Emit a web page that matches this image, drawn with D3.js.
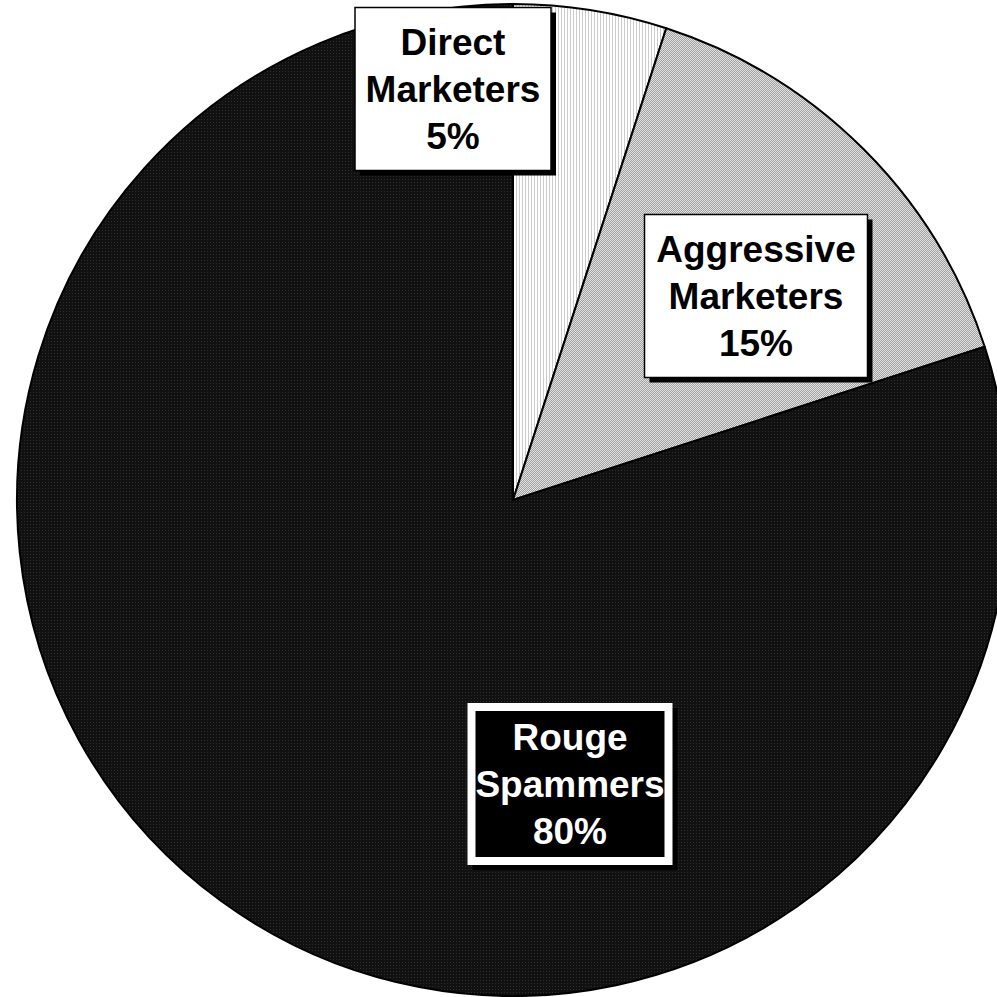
<!DOCTYPE html>
<html><head><meta charset="utf-8">
<script src="https://cdn.jsdelivr.net/npm/d3@7"></script>
<style>html,body{margin:0;padding:0;background:#fff;}svg{display:block;}</style>
</head><body>
<svg id="chart" width="997" height="997"></svg>
<script>
const categories = ["Direct Marketers", "Aggressive Marketers", "Rouge Spammers"];
const values = [5, 15, 80];
const labelLines = [["Direct", "Marketers", "5%"], ["Aggressive", "Marketers", "15%"], ["Rouge", "Spammers", "80%"]];

// layout (not data)
const cx = 513, cy = 500, R = 496;
const labelLayout = [
  {x: 453, y: 89, w: 196, h: 163, dark: false},
  {x: 756, y: 296, w: 223, h: 163, dark: false},
  {x: 570, y: 784, w: 205, h: 162, dark: true}
];

const svg = d3.select("#chart");
const defs = svg.append("defs");

// patterns
const p0 = defs.append("pattern").attr("id", "pat0").attr("patternUnits", "userSpaceOnUse").attr("width", 3).attr("height", 3);
p0.append("rect").attr("width", 3).attr("height", 3).attr("fill", "#ffffff");
p0.append("rect").attr("width", 1).attr("height", 3).attr("fill", "#cccccc");

const p1 = defs.append("pattern").attr("id", "pat1").attr("patternUnits", "userSpaceOnUse").attr("width", 2).attr("height", 2);
p1.append("rect").attr("width", 2).attr("height", 2).attr("fill", "#e2e2e2");
p1.append("rect").attr("width", 1).attr("height", 1).attr("fill", "#a0a0a0");
p1.append("rect").attr("x", 1).attr("y", 1).attr("width", 1).attr("height", 1).attr("fill", "#a0a0a0");

const p2 = defs.append("pattern").attr("id", "pat2").attr("patternUnits", "userSpaceOnUse").attr("width", 3).attr("height", 3);
p2.append("rect").attr("width", 3).attr("height", 3).attr("fill", "#111111");
p2.append("rect").attr("width", 1).attr("height", 1).attr("fill", "#2e2e2e");

const fills = ["url(#pat0)", "url(#pat1)", "url(#pat2)"];

const pie = d3.pie().sort(null).value(d => d).startAngle(0).endAngle(2 * Math.PI);
const arcs = pie(values);
const arc = d3.arc().innerRadius(0).outerRadius(R);

const g = svg.append("g").attr("transform", `translate(${cx},${cy})`);
g.selectAll("path.slice").data(arcs).enter().append("path")
  .attr("class", "slice")
  .attr("d", arc)
  .attr("fill", (d, i) => fills[i])
  .attr("stroke", "#000")
  .attr("stroke-width", 2)
  .attr("stroke-linejoin", "round");

// labels
const lg = svg.append("g");
labelLayout.forEach((L, i) => {
  const gg = lg.append("g").attr("transform", `translate(${L.x},${L.y})`);
  gg.append("rect").attr("x", -L.w / 2 + 5).attr("y", -L.h / 2 + 5).attr("width", L.w).attr("height", L.h).attr("fill", "#000");
  if (L.dark) {
    gg.append("rect").attr("x", -L.w / 2).attr("y", -L.h / 2).attr("width", L.w).attr("height", L.h).attr("fill", "#fff");
    gg.append("rect").attr("x", -L.w / 2 + 8).attr("y", -L.h / 2 + 8).attr("width", L.w - 16).attr("height", L.h - 16).attr("fill", "#000");
  } else {
    gg.append("rect").attr("x", -L.w / 2).attr("y", -L.h / 2).attr("width", L.w).attr("height", L.h)
      .attr("fill", "#fff").attr("stroke", "#000").attr("stroke-width", 1.5);
  }
  const t = gg.append("text")
    .attr("text-anchor", "middle")
    .attr("font-family", "Liberation Sans, Arial, sans-serif")
    .attr("font-weight", "bold")
    .attr("font-size", 37)
    .attr("fill", L.dark ? "#fff" : "#000");
  labelLines[i].forEach((line, k) => {
    t.append("tspan").attr("x", 0).attr("y", -34 + k * 47).text(line);
  });
});
</script>
</body></html>
